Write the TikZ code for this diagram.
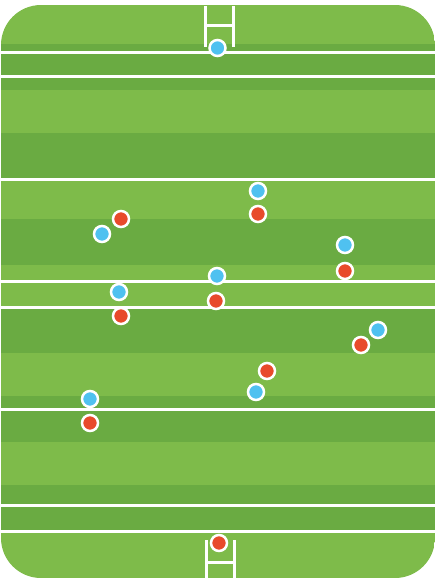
\documentclass[tikz,border=0pt]{standalone}
\usepackage{tikz}

\definecolor{grasslight}{HTML}{7EBB4A}
\definecolor{grassdark}{HTML}{6AAB42}
\definecolor{teamblue}{HTML}{4FC1F0}
\definecolor{teamred}{HTML}{E84A2B}

\begin{document}
\begin{tikzpicture}[
x=0.03cm, y=-0.03cm,
band/.style={fill=grassdark, draw=none},
pitchline/.style={draw=white, line width=0.09cm},
post/.style={draw=white, line width=0.09cm},
player/.style={circle, draw=white, line width=0.075cm, minimum size=0.48cm, inner sep=0pt},
blueplayer/.style={player, fill=teamblue},
redplayer/.style={player, fill=teamred}
]
\useasboundingbox (0,0) rectangle (438,579);
\begin{scope}
\clip[rounded corners=1.2cm] (1,5) rectangle (435,578);
\fill[grasslight] (1,5) rectangle (435,578);
\fill[band] (1,44) rectangle (435,90);
\fill[band] (1,133) rectangle (435,178);
\fill[band] (1,219) rectangle (435,265);
\fill[band] (1,307) rectangle (435,353);
\fill[band] (1,396) rectangle (435,442);
\fill[band] (1,485) rectangle (435,530);

\draw[pitchline] (1,52) -- (435,52);
\draw[pitchline] (1,76) -- (435,76);
\draw[pitchline] (1,179) -- (435,179);
\draw[pitchline] (1,281) -- (435,281);
\draw[pitchline] (1,307) -- (435,307);
\draw[pitchline] (1,409) -- (435,409);
\draw[pitchline] (1,505) -- (435,505);
\draw[pitchline] (1,531) -- (435,531);

\draw[post] (205,6) -- (205,47) (233,6) -- (233,47) (205,25) -- (233,25);
\draw[post] (206.5,540) -- (206.5,580) (234.5,540) -- (234.5,580) (206.5,562) -- (234.5,562);
\end{scope}

\node[blueplayer] (b1) at (217.5,48) {};
\node[blueplayer] (b2) at (258,191) {};
\node[blueplayer] (b3) at (102,234) {};
\node[blueplayer] (b4) at (345,245) {};
\node[blueplayer] (b5) at (217,276) {};
\node[blueplayer] (b6) at (119,292) {};
\node[blueplayer] (b7) at (378,330) {};
\node[blueplayer] (b8) at (256,392) {};
\node[blueplayer] (b9) at (90,399) {};

\node[redplayer] (r1) at (258,214) {};
\node[redplayer] (r2) at (121,219) {};
\node[redplayer] (r3) at (345,271) {};
\node[redplayer] (r4) at (216,301) {};
\node[redplayer] (r5) at (121,316) {};
\node[redplayer] (r6) at (361,345) {};
\node[redplayer] (r7) at (267,371) {};
\node[redplayer] (r8) at (90,423) {};
\node[redplayer] (r9) at (219,543) {};
\end{tikzpicture}
\end{document}
